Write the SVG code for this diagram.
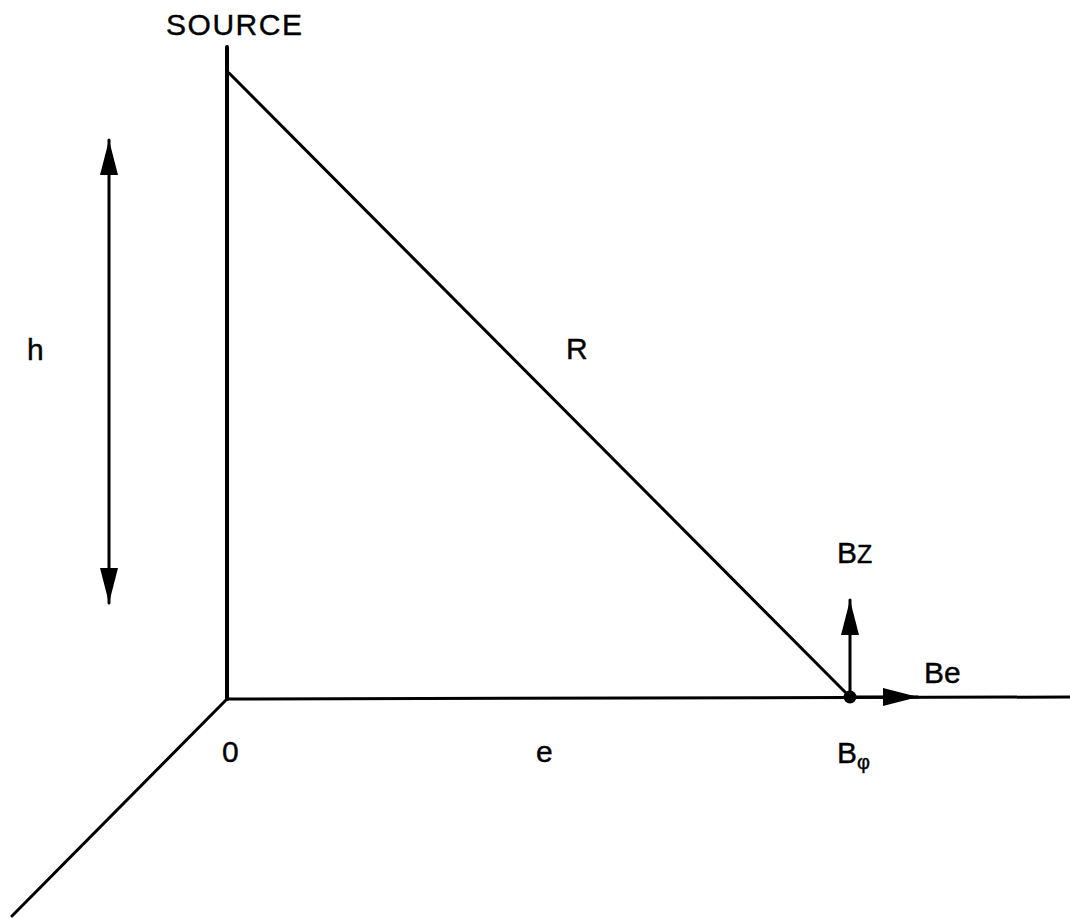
<svg xmlns="http://www.w3.org/2000/svg" width="1070" height="919" viewBox="0 0 1070 919">
<style>
.ln{stroke:#000;stroke-width:3;fill:none;stroke-linecap:round}
.ax{stroke:#000;stroke-width:4;fill:none;stroke-linecap:round}
.t{font-family:"Liberation Sans",Arial,sans-serif;font-size:30px;fill:#000;stroke:#000;stroke-width:0.4}
</style>
<defs>
<marker id="ah" markerUnits="userSpaceOnUse" markerWidth="36" markerHeight="20" viewBox="0 0 36 20" refX="35" refY="10" orient="auto-start-reverse">
<path d="M0,1 L35,10 L0,19 z" fill="#000"/>
</marker>
</defs>
<rect width="1070" height="919" fill="#fff"/>
<g id="connectors">
<line class="ax" x1="227" y1="47" x2="227" y2="699"/>
<line class="ln" x1="227" y1="699" x2="1070" y2="697"/>
<line class="ln" x1="227" y1="699" x2="12" y2="916"/>
<line class="ln" x1="229" y1="73" x2="850" y2="697"/>
<line class="ln" x1="109" y1="140" x2="109" y2="603" marker-start="url(#ah)" marker-end="url(#ah)"/>
<line class="ln" x1="850" y1="697" x2="850" y2="600" marker-end="url(#ah)"/>
<line class="ln" x1="850" y1="697" x2="918" y2="697" marker-end="url(#ah)"/>
</g>
<g id="point">
<circle cx="850" cy="697" r="6.5" fill="#000"/>
</g>
<g id="labels">
<text id="source" class="t" x="166" y="35" font-size="31" textLength="136">SOURCE</text>
<text id="h" class="t" x="27" y="360">h</text>
<text id="R" class="t" x="566" y="359">R</text>
<text id="Bz" class="t" x="837" y="563">B<tspan font-size="25">Z</tspan></text>
<text id="Be" class="t" x="924" y="683">Be</text>
<text id="origin" class="t" x="222" y="762">0</text>
<text id="e" class="t" x="536" y="762">e</text>
<text id="Bphi" class="t" x="837" y="763">B<tspan font-size="20" dy="6">φ</tspan></text>
</g>
</svg>
